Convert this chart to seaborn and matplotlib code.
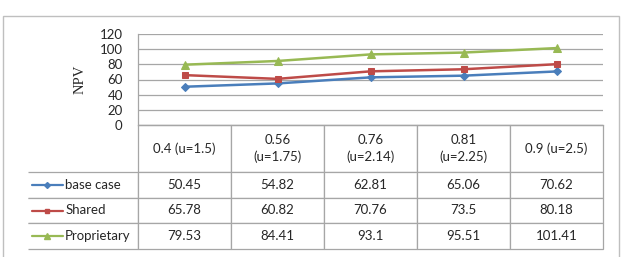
#NPV per scenario - line chart with data table underneath (Excel style)

import numpy as np
import pandas as pd
import seaborn as sns
import matplotlib.pyplot as plt
from matplotlib.lines import Line2D
from matplotlib.patches import Rectangle

#Data
categories = ["0.4 (u=1.5)", "0.56\n(u=1.75)", "0.76\n(u=2.14)", "0.81\n(u=2.25)", "0.9 (u=2.5)"]
series = ["base case", "Shared", "Proprietary"]
base_case = [50.45, 54.82, 62.81, 65.06, 70.62]
shared = [65.78, 60.82, 70.76, 73.5, 80.18]
proprietary = [79.53, 84.41, 93.1, 95.51, 101.41]
yticks = [0, 20, 40, 60, 80, 100, 120]

colors = ["#4A7EBB", "#BE4B48", "#98B954"]
markers = ["D", "s", "^"]
marker_sizes = [4.5, 5, 5.5]

values = [base_case, shared, proprietary]
df = pd.DataFrame({
    "pos": list(range(len(categories))) * len(series),
    "NPV": base_case + shared + proprietary,
    "series": np.repeat(series, len(categories)),
})

#Style
sns.set_style("white")
plt.rcParams["font.family"] = ["Lato", "DejaVu Sans"]
grid_col = "#A6A6A6"

W, H = 624, 257
fig = plt.figure(figsize=(W / 100, H / 100), dpi=100)

# plot area in pixels
px_left, px_right, px_top, px_bottom = 138, 603, 34, 125
ax = fig.add_axes([px_left / W, 1 - px_bottom / H, (px_right - px_left) / W, (px_bottom - px_top) / H])

sns.lineplot(data=df, x="pos", y="NPV", hue="series", style="series",
             hue_order=series, style_order=series, palette=colors,
             markers=markers, dashes=False, linewidth=1.8, legend=False, ax=ax)
for line, ms, c in zip(ax.lines, marker_sizes, colors):
    line.set_markersize(ms)
    line.set_markeredgecolor(c)

ax.set_xlim(-0.5, len(categories) - 0.5)
ax.set_ylim(0, 120)
ax.set_yticks(yticks)
ax.set_xticks([])
ax.set_xlabel("")
ax.yaxis.grid(True, color=grid_col, lw=0.9)
ax.tick_params(axis="y", length=0, pad=11, labelsize=9.5)
for side in ["top", "right"]:
    ax.spines[side].set_visible(False)
for side in ["left", "bottom"]:
    ax.spines[side].set_color(grid_col)
    ax.spines[side].set_linewidth(0.9)

ax.set_ylabel("NPV", family=["Liberation Serif"], fontsize=10.5)
ax.yaxis.set_label_coords((87 - px_left) / (px_right - px_left), 0.5)

#Data table (sizes in axes units; bbox covers only the data columns)
tbl_left, tbl_bottom = 28, 249
ax_w, ax_h = px_right - px_left, px_bottom - px_top
head_h = (172 - px_bottom) / ax_h
row_h = (tbl_bottom - 172) / len(series) / ax_h
label_w = (px_left - tbl_left) / ax_w
tab = ax.table(cellText=[[str(v) for v in s] for s in values],
               rowLabels=series, colLabels=categories, cellLoc="center",
               bbox=[0, -(head_h + row_h * len(series)), 1, head_h + row_h * len(series)])
tab.auto_set_font_size(False)
tab.set_fontsize(9.5)
for (r, c), cell in tab.get_celld().items():
    cell.set_edgecolor(grid_col)
    cell.set_linewidth(0.9)
    cell.set_height(head_h if r == 0 else row_h)
    cell.set_width(label_w if c == -1 else 1 / len(categories))
    if r == 0:
        cell.get_text().set_linespacing(1.35)
    if c == -1:
        cell.visible_edges = "TBR"
        cell._loc = "left"
        cell.PAD = 37 / (px_left - tbl_left)
        cell.get_text().set_horizontalalignment("left")

# legend keys inside the table label column
for i, (c, m, ms) in enumerate(zip(colors, markers, marker_sizes)):
    y = -(head_h + row_h * (i + 0.5))
    x0, x1 = (32 - px_left) / ax_w, (63 - px_left) / ax_w
    ax.add_line(Line2D([x0, x1], [y, y], transform=ax.transAxes, color=c, lw=1.6, clip_on=False))
    ax.add_line(Line2D([(x0 + x1) / 2], [y], transform=ax.transAxes, color=c, marker=m,
                       markersize=ms - 1.5, mec=c, clip_on=False))

# chart area border
fig.patches.append(Rectangle((3 / W, -0.05), 616 / W, 1.05 - 16 / H, transform=fig.transFigure,
                             fill=False, edgecolor="#BFBFBF", lw=1))

plt.savefig("out.png", dpi=100)
